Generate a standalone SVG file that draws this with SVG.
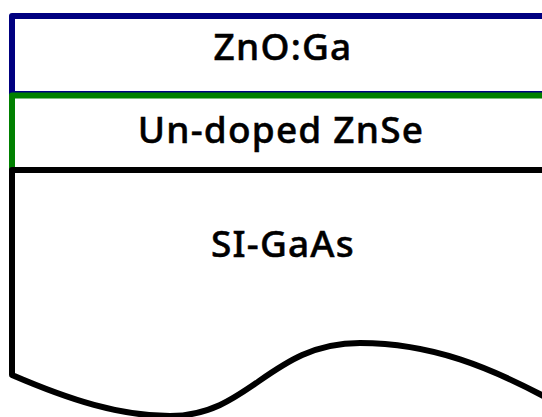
<svg xmlns="http://www.w3.org/2000/svg" width="542" height="417" viewBox="0 0 542 417">
  <style>
    .layer { fill: none; stroke-width: 6; stroke-linejoin: round; }
    .label { font-family: "Noto Sans", "Open Sans", sans-serif; font-size: 37px; font-weight: 500; letter-spacing: 1.2px; fill: #000; stroke: #000; stroke-width: 0.5px; text-anchor: middle; }
  </style>
  <rect width="542" height="417" fill="#fff"/>
  <g id="zno-ga">
    <path class="layer" stroke="#000080" d="M560,16 L12,16 L12,94 L560,94"/>
    <text class="label" x="283" y="60">ZnO:Ga</text>
  </g>
  <g id="undoped-znse">
    <path class="layer" stroke="#008000" d="M560,95.5 L12,95.5 L12,170"/>
    <text class="label" x="281" y="143">Un-doped ZnSe</text>
  </g>
  <g id="si-gaas">
    <path class="layer" stroke="#000" d="M560,170 L12,170 L12,375 C70,400 120,416 170,416 C250,416 270,343 360,343 C430,343 490,366 560,405"/>
    <text class="label" x="283" y="257">SI-GaAs</text>
  </g>
</svg>
